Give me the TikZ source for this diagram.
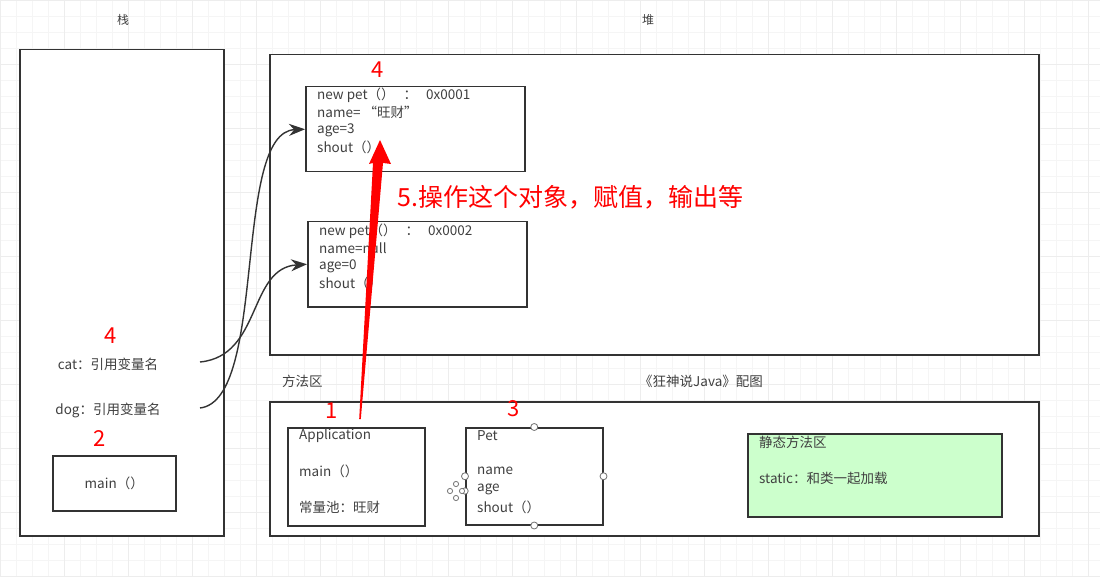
\documentclass[tikz,border=0pt]{standalone}
\usepackage{fontspec}
\setmainfont{Noto Sans CJK SC}
\usetikzlibrary{arrows.meta,calc}
\definecolor{ink}{HTML}{333333}
\definecolor{txtc}{HTML}{404040}
\definecolor{greenfill}{HTML}{CCFFCC}
\begin{document}
\begin{tikzpicture}[x=1pt,y=-1pt,
  box/.style={draw=ink,line width=1.5pt,fill=white,rectangle,inner sep=0pt,anchor=north west},
  txt/.style={text=txtc,font=\fontsize{13.5}{15}\selectfont,inner sep=0pt,anchor=west},
  ctxt/.style={text=txtc,font=\fontsize{13.5}{15}\selectfont,inner sep=0pt},
  ttl/.style={text=txtc,font=\fontsize{12}{14}\selectfont,inner sep=0pt},
  num/.style={text=red,font=\fontsize{22}{24}\selectfont,inner sep=0pt},
  conn/.style={draw=ink,line width=1.4pt,-{Stealth[length=16pt,width=12pt]}},
  handle/.style={draw=black!55,fill=white,line width=0.8pt},
  gridminor/.style={draw=black!4,line width=0.6pt},
  gridmajor/.style={draw=black!7,line width=0.8pt}]
\useasboundingbox (0,0) rectangle (1100,577);
\fill[white] (0,0) rectangle (1100,577);
\foreach \x in {0,16,...,1100} \draw[gridminor] (\x,0) -- (\x,577);
\foreach \y in {0,16,...,577} \draw[gridminor] (0,\y) -- (1100,\y);
\foreach \x in {0,64,...,1100} \draw[gridmajor] (\x,0) -- (\x,577);
\foreach \y in {0,64,...,577} \draw[gridmajor] (0,\y) -- (1100,\y);

% titles
\node[ttl] (tstack) at (123,20) {栈};
\node[ttl] (theap) at (648,20) {堆};
\node[ctxt,anchor=west] (tmeth) at (282,381) {方法区};
\node[ctxt] (tbook) at (701,381) {《狂神说Java》配图};

% main containers
\node[box,minimum width=204pt,minimum height=486pt] (stack) at (19,49) {};
\node[box,minimum width=769pt,minimum height=300pt] (heap) at (269,54) {};
\node[box,minimum width=769pt,minimum height=134pt] (meth) at (269,401) {};

% heap objects
\node[box,minimum width=219pt,minimum height=85pt] (o1) at (305,86) {};
\node[txt] (o1a) at (317,95) {new pet（）\hspace{9pt}：\hspace{9pt}0x0001};
\node[txt] (o1b) at (317,112.5) {name= “旺财”};
\node[txt] (o1c) at (317,130) {age=3};
\node[txt] (o1d) at (317,147.5) {shout（）};
\node[num] (n4a) at (378,70) {4};

\node[box,minimum width=219pt,minimum height=85pt] (o2) at (307,221) {};
\node[txt] (o2a) at (319,231) {new pet（）\hspace{9pt}：\hspace{9pt}0x0002};
\node[txt] (o2b) at (319,248.5) {name=null};
\node[txt] (o2c) at (319,266) {age=0};
\node[txt] (o2d) at (319,283.5) {shout（）};

% stack contents
\node[num] (n4b) at (111,336) {4};
\node[ctxt] (cat) at (108,364) {cat：引用变量名};
\node[ctxt] (dog) at (108,410) {dog：引用变量名};
\node[num] (n2) at (100,439) {2};
\node[box,minimum width=123pt,minimum height=55pt] (mainb) at (52,455) {};
\node[ctxt] (maint) at (mainb.center) {main（）};

% references
\coordinate (catc) at (200,362);
\coordinate (dogc) at (200,408);
\draw[conn] (catc) .. controls (262,356) and (248,268) .. (o2.west);
\draw[conn] (dogc) .. controls (268,400) and (232,132) .. (o1.west);

% method area
\node[box,minimum width=137pt,minimum height=98pt] (app) at (287,427) {};
\node[txt] (appa) at (299,436) {Application};
\node[txt] (appb) at (299,471) {main（）};
\node[txt] (appc) at (299,507) {常量池：旺财};
\node[num] (n1) at (332,411) {1};

\node[box,minimum width=137pt,minimum height=97pt] (pet) at (465,427) {};
\node[txt] (peta) at (477,436) {Pet};
\node[txt] (petb) at (477,471) {name};
\node[txt] (petc) at (477,489) {age};
\node[txt] (petd) at (477,507) {shout（）};
\node[num] (n3) at (514,409) {3};
\foreach \a in {north,south,west,east} \draw[handle] (pet.\a) circle (3.5);
\draw[handle] (465,491) circle (3.2);
\foreach \p in {(456,484),(456,498),(450,491),(462,491)} \draw[handle] \p circle (2.6);

\node[box,fill=greenfill,minimum width=254pt,minimum height=83pt] (stat) at (747,433) {};
\node[txt] (stata) at (759,442) {静态方法区};
\node[txt] (statb) at (759,478) {static：和类一起加载};

% red arrow
\coordinate (rs) at (360,419);
\coordinate (rt) at (380,140);
\fill[red] ($(rs)+(-0.8,0)$) -- ($(rt)+(-7,23)$) -- ($(rt)+(-11,24)$) -- (rt)
  -- ($(rt)+(11,24)$) -- ($(rt)+(3,23)$) -- ($(rs)+(0.8,0)$) -- cycle;
\node[text=red,font=\fontsize{25}{28}\selectfont,inner sep=0pt,anchor=west] (op) at (397,197) {5.操作这个对象，赋值，输出等};
\end{tikzpicture}
\end{document}
